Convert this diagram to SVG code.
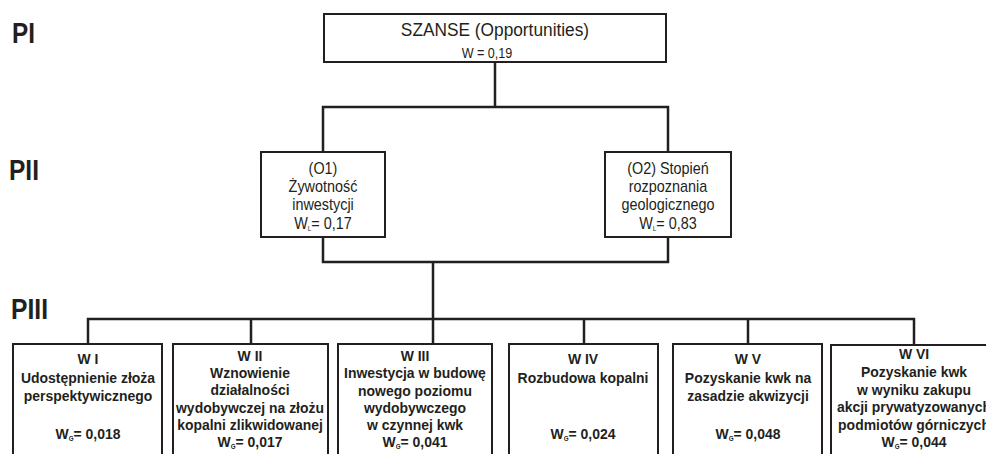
<svg xmlns="http://www.w3.org/2000/svg" width="986" height="454" viewBox="0 0 986 454">
<style>
  .box { fill: #ffffff; stroke: #231f20; stroke-width: 2; }
  .conn { fill: none; stroke: #231f20; stroke-width: 2.5; }
  text { font-family: "Liberation Sans", Arial, sans-serif; fill: #231f20; text-anchor: middle; }
  .lvl { font-size: 30px; font-weight: bold; text-anchor: start; }
  .top { font-size: 19px; }
  .topw { font-size: 14px; }
  .mid { font-size: 16px; }
  .bot { font-size: 15.5px; font-weight: bold; }
  .sub { font-size: 7px; }
</style>
<rect width="986" height="454" fill="#ffffff"/>

<g id="levels">
  <text class="lvl" x="12" y="43" textLength="23" lengthAdjust="spacingAndGlyphs">PI</text>
  <text class="lvl" x="9" y="180" textLength="30" lengthAdjust="spacingAndGlyphs">PII</text>
  <text class="lvl" x="11" y="319" textLength="37" lengthAdjust="spacingAndGlyphs">PIII</text>
</g>

<g id="connectors">
  <path class="conn" d="M495,62 V107 M323,152 V107 H668 V152"/>
  <path class="conn" d="M323,237 V262 H668 V237 M433,262 V319"/>
  <path class="conn" d="M88,344 V319 H914 V344 M251,319 V344 M433,319 V344 M584,319 V344 M748,319 V344"/>
</g>

<g id="szanse">
  <rect class="box" x="324" y="14" width="342" height="48" stroke-width="2.5"/>
  <g transform="translate(495,0) scale(0.91,1)">
    <text class="top" x="0" y="36">SZANSE (Opportunities)</text>
  </g>
  <g transform="translate(487,0) scale(0.9,1)">
    <text class="topw" x="0" y="58">W = 0,19</text>
  </g>
</g>

<g id="o1">
  <rect class="box" x="261" y="152" width="124" height="85"/>
  <g transform="translate(323,0) scale(0.9,1)">
    <text class="mid" x="0" y="174">(O1)</text>
    <text class="mid" x="0" y="192">Żywotność</text>
    <text class="mid" x="0" y="210">inwestycji</text>
    <text class="mid" x="0" y="229">W<tspan class="sub" dy="2">L</tspan><tspan dy="-2">= 0,17</tspan></text>
  </g>
</g>

<g id="o2">
  <rect class="box" x="605" y="152" width="126" height="85"/>
  <g transform="translate(668,0) scale(0.9,1)">
    <text class="mid" x="0" y="174">(O2) Stopień</text>
    <text class="mid" x="0" y="192">rozpoznania</text>
    <text class="mid" x="0" y="210">geologicznego</text>
    <text class="mid" x="0" y="229">W<tspan class="sub" dy="2">L</tspan><tspan dy="-2">= 0,83</tspan></text>
  </g>
</g>

<g id="w1">
  <rect class="box" x="13" y="344" width="149" height="120"/>
  <g transform="translate(88,0) scale(0.9,1)">
    <text class="bot" x="0" y="364">W I</text>
    <text class="bot" x="0" y="383">Udostępnienie złoża</text>
    <text class="bot" x="0" y="401">perspektywicznego</text>
    <text class="bot" x="0" y="439">W<tspan class="sub" dy="2">G</tspan><tspan dy="-2">= 0,018</tspan></text>
  </g>
</g>

<g id="w2">
  <rect class="box" x="173" y="344" width="155" height="120"/>
  <g transform="translate(250,0) scale(0.9,1)">
    <text class="bot" x="0" y="361">W II</text>
    <text class="bot" x="0" y="378">Wznowienie</text>
    <text class="bot" x="0" y="395">działalności</text>
    <text class="bot" x="0" y="413">wydobywczej na złożu</text>
    <text class="bot" x="0" y="430">kopalni zlikwidowanej</text>
    <text class="bot" x="0" y="447">W<tspan class="sub" dy="2">G</tspan><tspan dy="-2">= 0,017</tspan></text>
  </g>
</g>

<g id="w3">
  <rect class="box" x="338" y="344" width="154" height="120"/>
  <g transform="translate(415,0) scale(0.9,1)">
    <text class="bot" x="0" y="361">W III</text>
    <text class="bot" x="0" y="378">Inwestycja w budowę</text>
    <text class="bot" x="0" y="396">nowego poziomu</text>
    <text class="bot" x="0" y="413">wydobywczego</text>
    <text class="bot" x="0" y="430">w czynnej kwk</text>
    <text class="bot" x="0" y="447">W<tspan class="sub" dy="2">G</tspan><tspan dy="-2">= 0,041</tspan></text>
  </g>
</g>

<g id="w4">
  <rect class="box" x="509" y="344" width="149" height="120"/>
  <g transform="translate(583,0) scale(0.9,1)">
    <text class="bot" x="0" y="364">W IV</text>
    <text class="bot" x="0" y="383">Rozbudowa kopalni</text>
    <text class="bot" x="0" y="439">W<tspan class="sub" dy="2">G</tspan><tspan dy="-2">= 0,024</tspan></text>
  </g>
</g>

<g id="w5">
  <rect class="box" x="673" y="344" width="149" height="120"/>
  <g transform="translate(748,0) scale(0.9,1)">
    <text class="bot" x="0" y="364">W V</text>
    <text class="bot" x="0" y="383">Pozyskanie kwk na</text>
    <text class="bot" x="0" y="401">zasadzie akwizycji</text>
    <text class="bot" x="0" y="439">W<tspan class="sub" dy="2">G</tspan><tspan dy="-2">= 0,048</tspan></text>
  </g>
</g>

<g id="w6">
  <rect class="box" x="831" y="345" width="166" height="120"/>
  <g transform="translate(914,0) scale(0.9,1)">
    <text class="bot" x="0" y="359">W VI</text>
    <text class="bot" x="0" y="377">Pozyskanie kwk</text>
    <text class="bot" x="0" y="395">w wyniku zakupu</text>
    <text class="bot" x="0" y="412">akcji prywatyzowanych</text>
    <text class="bot" x="0" y="430">podmiotów górniczych</text>
    <text class="bot" x="0" y="447">W<tspan class="sub" dy="2">G</tspan><tspan dy="-2">= 0,044</tspan></text>
  </g>
</g>
</svg>
